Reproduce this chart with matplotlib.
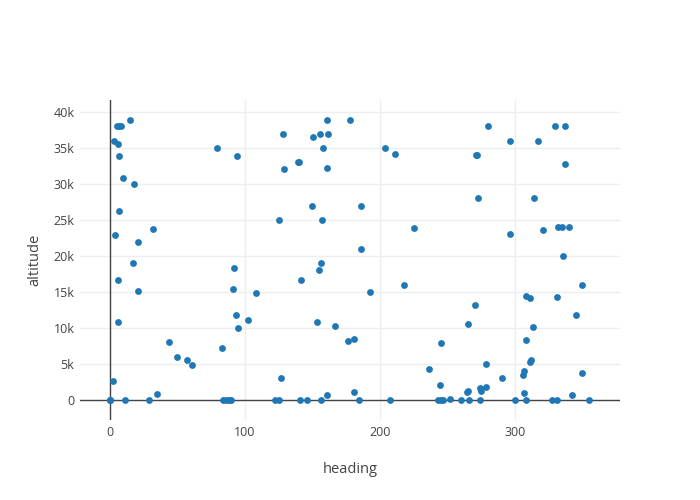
import matplotlib
matplotlib.use("Agg")
import matplotlib.pyplot as plt

plt.rcParams['font.family'] = ['Open Sans', 'DejaVu Sans']

heading = [
    0, 0, 0, 2, 3, 6, 5, 7, 8, 15, 7, 79, 94, 10, 18, 7, 32, 4, 21,
    17, 6, 21, 6, 44, 50, 57, 61, 11, 29, 35, 83, 84, 86, 88, 90,
    92, 91, 108, 93, 102, 95,
    161, 177.5, 128, 150.6, 155.6, 161.7, 157.8, 203.5, 211.4, 139, 140, 129, 160.7,
    149.6, 185.7, 125, 156.8, 225.4, 185.7,
    156.5, 154.8, 141.7, 192.6, 217.5, 153.6, 166.7, 176.5, 180.7, 127,
    122, 125, 140.7, 145.7, 156.5, 160.7, 180.5, 184.4, 207.4, 236.3, 244.2, 245.2,
    243, 245, 246.4, 252,
    280.2, 329.9, 336.8, 296.1, 316.8, 271, 272, 336.8, 272.3, 314.1, 296.1, 321,
    331.6, 334.6, 340,
    335.8, 349.9, 270.1, 307.9, 311.1, 330.9, 345, 265.2, 313.1, 307.9,
    311.4, 312.1, 278.3, 306.9, 306.2, 349.9, 290.1, 264.2, 265.2, 274, 278.3, 275,
    306.9, 342, 260.2, 266.2, 274, 300.2, 308.1, 327.7, 330.9, 354.8,
]
altitude = [
    0, 0, 0, 2600, 36000, 35600, 38000, 38000, 38000, 38900, 33900, 35000, 33900, 30900, 30000, 26300, 23800, 22900, 22000,
    19000, 16700, 15100, 10900, 8060, 6000, 5500, 4900, 0, 0, 830, 7270, 0, 0, 0, 0,
    18400, 15400, 14800, 11800, 11100, 9950,
    38900, 38900, 36900, 36500, 37000, 37000, 35000, 35000, 34100, 33000, 33000, 32100, 32200,
    27000, 27000, 25000, 25000, 23900, 21000,
    19000, 18000, 16700, 15000, 16000, 10900, 10300, 8240, 8500, 3000,
    0, 0, 0, 0, 0, 650, 1160, 0, 0, 4260, 2080, 7960,
    0, 0, 0, 100,
    38000, 38000, 38000, 36000, 36000, 34000, 34000, 32800, 28000, 28000, 23100, 23600,
    24000, 24000, 24000,
    20000, 16000, 13200, 14400, 14100, 14300, 11850, 10500, 10100, 8380,
    5230, 5560, 5000, 4070, 3470, 3700, 3000, 1070, 1300, 1700, 1850, 1300,
    1020, 690, 0, 0, 0, 0, 0, 0, 0, 0,
]

x_ticks = [0, 100, 200, 300]
y_ticks = [0, 5000, 10000, 15000, 20000, 25000, 30000, 35000, 40000]
y_tick_labels = ['0', '5k', '10k', '15k', '20k', '25k', '30k', '35k', '40k']

fig = plt.figure(figsize=(7, 5), dpi=100)
ax = fig.add_axes([80 / 700, 80 / 500, 540 / 700, 320 / 500])

ax.scatter(heading, altitude, s=24, color='#1f77b4', linewidths=0, zorder=3)

ax.set_xlim(-22.2, 377.8)
ax.set_ylim(-2780, 41670)

ax.set_xticks(x_ticks)
ax.set_yticks(y_ticks)
ax.set_yticklabels(y_tick_labels)
ax.grid(True, color='#eeeeee', linewidth=1, zorder=0)
ax.set_axisbelow(True)
ax.axhline(0, color='#444444', linewidth=1, zorder=2)
ax.axvline(0, color='#444444', linewidth=1, zorder=2)

for s in ax.spines.values():
    s.set_visible(False)
ax.tick_params(length=0, labelsize=9, labelcolor='#444444', pad=4)

ax.set_xlabel('heading', fontsize=10.5, color='#444444', labelpad=17)
ax.set_ylabel('altitude', fontsize=10.5, color='#444444', labelpad=8)

fig.savefig('out.png', dpi=100)
